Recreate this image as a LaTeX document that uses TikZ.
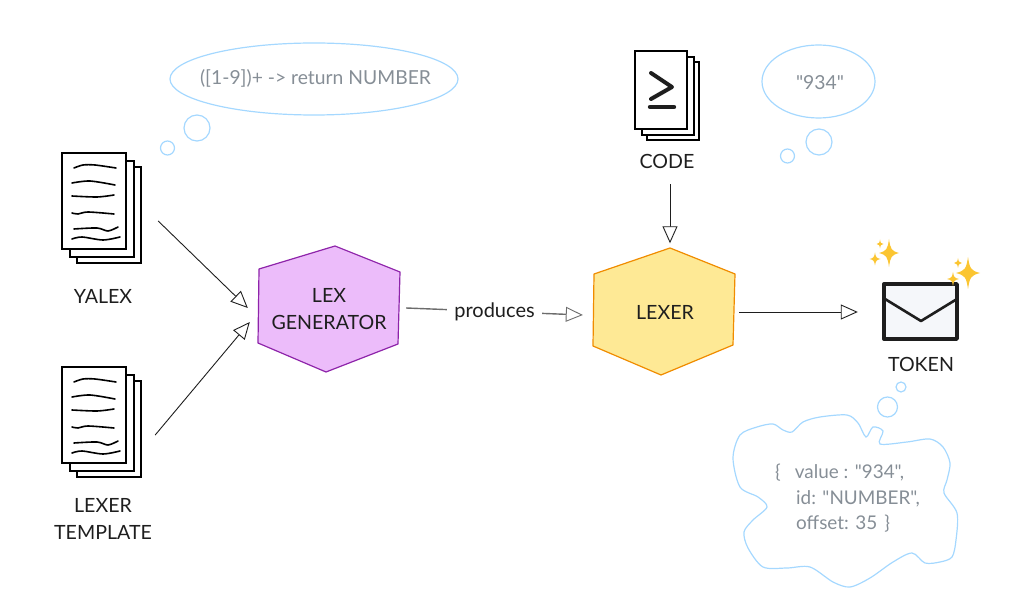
\documentclass[tikz,border=0pt]{standalone}
\usepackage{fontspec}
\setmainfont{Lato}[Ligatures = TeXOff]
\usetikzlibrary{arrows.meta, shapes.geometric}

\definecolor{ink}{HTML}{1E1E1E}
\definecolor{note}{HTML}{868E96}
\definecolor{sky}{HTML}{A5D8FF}
\definecolor{lilac}{HTML}{ECBCFA}
\definecolor{plum}{HTML}{8E24AA}
\definecolor{butter}{HTML}{FEE995}
\definecolor{amber}{HTML}{F08C00}
\definecolor{paper}{HTML}{F5F7FA}
\definecolor{spark}{HTML}{FBC531}

\tikzset{
  caption/.style = {text = ink, align = center, font = \fontsize{19.6}{26.5}\selectfont},
  box/.style = {rectangle, inner sep = 0pt},
  page/.style = {draw = black, fill = white, line width = 2.8pt},
  scribble/.style = {draw = black, line width = 1.6pt, line cap = round},
  thought/.style = {draw = sky, line width = 1.2pt},
  thoughttext/.style = {text = note, inner sep = 0pt, font = \fontsize{19.3}{22}\selectfont},
  cloudtext/.style = {text = note, align = left, inner sep = 0pt, font = \fontsize{18.9}{25.5}\selectfont},
  flow/.style = {draw = ink, line width = 0.9pt, -{Triangle[length = 17pt, width = 15pt, fill = white, line width = 0.9pt]}},
  produceflow/.style = {flow, draw = gray!85!black, line width = 1.4pt}
}

\begin{document}
\begin{tikzpicture}[x = 1pt, y = -1pt]
  \useasboundingbox (0, 0) rectangle (1026, 612);

  % Document stacks
  \foreach \dy in {0, 214} {
    \begin{scope}[shift = {(0, \dy)}]
      \draw[page] (77, 167) rectangle (141, 263);
      \draw[page] (70, 161) rectangle (134, 257);
      \draw[page] (62, 153) rectangle (126, 249);
      \draw[scribble] plot[smooth] coordinates {(74, 168) (83, 165) (95, 165) (116, 168)};
      \draw[scribble] plot[smooth] coordinates {(72, 183) (90, 181) (115, 185)};
      \draw[scribble] plot[smooth] coordinates {(72, 196) (97, 197) (114, 195)};
      \draw[scribble] plot[smooth] coordinates {(72, 213) (78, 214) (88, 212) (114, 214)};
      \draw[scribble] plot[smooth] coordinates {(74, 229) (97, 228) (108, 231) (118, 227)};
      \draw[scribble] plot[smooth] coordinates {(72, 239) (82, 237) (103, 240) (120, 237)};
    \end{scope}
  }
  \node[box, minimum width = 80pt, minimum height = 110pt] (yalex) at (101, 208) {};
  \node[box, minimum width = 80pt, minimum height = 110pt] (template) at (101, 422) {};
  \node[caption] (yalexlabel) at (103, 296) {YALEX};
  \node[caption] (templatelabel) at (103, 519) {LEXER\\TEMPLATE};

  % Code stack
  \draw[page] (647, 62) rectangle (699, 140);
  \draw[page] (642, 57) rectangle (694, 135);
  \draw[page] (635, 51) rectangle (687, 129);
  \draw[draw = ink, line width = 4pt, line cap = round, line join = round] (651, 73) -- (672, 87) -- (651, 99);
  \draw[draw = ink, line width = 4.4pt, line cap = round] (650, 107) -- (674, 107);
  \node[box, minimum width = 64pt, minimum height = 89pt] (code) at (667, 95.5) {};
  \node[caption] (codelabel) at (667, 161) {CODE};

  % Hexagons
  \draw[draw = plum, fill = lilac, line width = 1.2pt, line join = round]
    (335, 246) -- (400, 272) -- (398, 344) -- (326, 372) -- (258, 343) -- (259, 269) -- cycle;
  \node[box, caption, minimum width = 142pt, minimum height = 126pt] (lexgen) at (329, 309) {LEX\\GENERATOR};
  \draw[draw = amber, fill = butter, line width = 1.2pt, line join = round]
    (670, 248) -- (735, 274) -- (733, 345) -- (661, 375) -- (593, 346) -- (594, 274) -- cycle;
  \node[box, caption, minimum width = 142pt, minimum height = 127pt] (lexer) at (665, 312) {LEXER};

  % Token
  \draw[draw = ink, fill = paper, line width = 3.4pt, line join = round] (884, 284) rectangle (957, 339);
  \draw[draw = ink, line width = 2.6pt, line join = round] (885, 299) -- (921, 321) -- (957, 299);
  \node[box, minimum width = 74pt, minimum height = 56pt] (token) at (920, 311) {};
  \node[caption] (tokenlabel) at (921, 364) {TOKEN};

  % Sparkles
  \foreach \x/\y/\w/\h in {889/253/10/14, 880/244/3.5/4.5, 875/259/5.5/6.5, 968/273/12/16, 958/263/4/5, 953/279/6/7} {
    \fill[spark] ({\x}, {\y - \h})
      .. controls ({\x + 0.15 * \w}, {\y - 0.25 * \h}) and ({\x + 0.25 * \w}, {\y - 0.15 * \h}) .. ({\x + \w}, {\y})
      .. controls ({\x + 0.25 * \w}, {\y + 0.15 * \h}) and ({\x + 0.15 * \w}, {\y + 0.25 * \h}) .. ({\x}, {\y + \h})
      .. controls ({\x - 0.15 * \w}, {\y + 0.25 * \h}) and ({\x - 0.25 * \w}, {\y + 0.15 * \h}) .. ({\x - \w}, {\y})
      .. controls ({\x - 0.25 * \w}, {\y - 0.15 * \h}) and ({\x - 0.15 * \w}, {\y - 0.25 * \h}) .. ({\x}, {\y - \h}) -- cycle;
  }

  % Thoughts
  \draw[thought] (314, 79) ellipse [x radius = 144, y radius = 36];
  \node[thoughttext] (rulecloud) at (315.5, 78) {([1-9])+ -> return NUMBER};
  \node[circle, thought, inner sep = 0pt, minimum size = 26pt] (rulebubblea) at (197, 128) {};
  \node[circle, thought, inner sep = 0pt, minimum size = 14pt] (rulebubbleb) at (167.5, 148) {};

  \draw[thought] (818.5, 81.5) ellipse [x radius = 56.5, y radius = 36.5];
  \node[thoughttext] (inputcloud) at (820, 83) {"934"};
  \node[circle, thought, inner sep = 0pt, minimum size = 26pt] (inputbubblea) at (819, 142) {};
  \node[circle, thought, inner sep = 0pt, minimum size = 14pt] (inputbubbleb) at (787.5, 156) {};

  \draw[thought] plot[smooth cycle] coordinates {
    (792, 432) (803, 422) (820, 417) (847, 415) (858, 423) (866, 437) (873, 427) (883, 431) (880, 444)
    (907, 442) (930, 439) (943, 447) (950, 463) (947, 480) (944, 493) (957, 513) (956, 540) (952, 557)
    (940, 562) (925, 563) (912, 553) (893, 562) (870, 578) (850, 587) (833, 582) (810, 567) (787, 568)
    (763, 567) (748, 548) (744, 532) (753, 520) (767, 507) (758, 497) (740, 487) (733, 458) (740, 435)
    (757, 427) (773, 424) (783, 430)};
  \node[cloudtext, anchor = west] (tokencloud) at (775, 498.5) {\{\hspace{14pt}value : "934",\\\hspace{21pt}id: "NUMBER",\\\hspace{21pt}offset: 35\hspace{7pt}\}};
  \node[circle, thought, inner sep = 0pt, minimum size = 20pt] (tokenbubblea) at (887.5, 407) {};
  \node[circle, thought, inner sep = 0pt, minimum size = 10pt] (tokenbubbleb) at (901, 387) {};

  % Connectors
  \draw[flow] ([shift = {(17, 13)}]yalex.east) -- ([shift = {(-10, -1)}]lexgen.west);
  \draw[flow] ([shift = {(14, 13)}]template.east) -- ([shift = {(-8, 13)}]lexgen.west);
  \draw[flow] ([shift = {(3, 44)}]code.south) -- ([shift = {(5, -5)}]lexer.north);
  \draw[flow] ([shift = {(3, 0)}]lexer.east) -- ([shift = {(-25, 1)}]token.west);
  \draw[produceflow] ([shift = {(6, -1)}]lexgen.east) -- node[midway, fill = white, text = ink, inner sep = 7pt, font = \fontsize{20}{22}\selectfont] (produceslabel) {produces} ([shift = {(-11, 3)}]lexer.west);

\end{tikzpicture}
\end{document}
